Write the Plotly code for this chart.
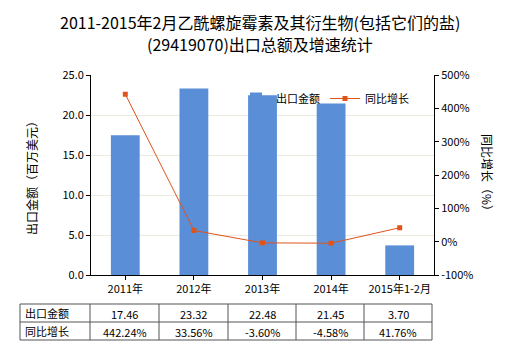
import plotly.graph_objects as go

categories = ["2011年", "2012年", "2013年", "2014年", "2015年1-2月"]
export_values = [17.46, 23.32, 22.48, 21.45, 3.70]
growth_pct = [442.24, 33.56, -3.60, -4.58, 41.76]
left_ticks = [0, 5, 10, 15, 20, 25]
right_ticks = [-100, 0, 100, 200, 300, 400, 500]

W, H = 520, 350
L, R, T, B = 91, 434, 75, 275
FONT = "Noto Sans CJK SC, Microsoft YaHei, sans-serif"
BAR_C = "#5A8ED6"
LINE_C = "#E0541B"

fig = go.Figure()
fig.add_trace(go.Bar(x=categories, y=export_values, name="出口金额",
                     marker=dict(color=BAR_C, line=dict(width=0)), width=0.42,
                     yaxis="y"))
fig.add_trace(go.Scatter(x=categories, y=growth_pct, name="同比增长", mode="lines+markers",
                         line=dict(color=LINE_C, width=1),
                         marker=dict(symbol="square", size=5, color=LINE_C),
                         yaxis="y2"))

def px(x):
    return (x - L) / (R - L)

def py(y):
    return (B - y) / (B - T)

shapes = []
col_x = [20, 90, 159, 228, 296, 364, 432]
row_y = [304, 322, 340]
for x in col_x:
    shapes.append(dict(type="line", xref="paper", yref="paper", x0=px(x), x1=px(x),
                       y0=py(row_y[0]), y1=py(row_y[-1]), line=dict(color="#555", width=1)))
for y in row_y:
    shapes.append(dict(type="line", xref="paper", yref="paper", x0=px(col_x[0]), x1=px(col_x[-1]),
                       y0=py(y), y1=py(y), line=dict(color="#555", width=1)))

annotations = []
row_labels = ["出口金额", "同比增长"]
for r, lab in enumerate(row_labels):
    yc = (row_y[r] + row_y[r + 1]) / 2
    annotations.append(dict(text=lab, xref="paper", yref="paper", x=px(col_x[0] + 3), y=py(yc),
                            xanchor="left", yanchor="middle", showarrow=False,
                            font=dict(size=11, color="#000", family=FONT)))
    for i in range(len(categories)):
        xc = (col_x[i + 1] + col_x[i + 2]) / 2
        txt = f"{export_values[i]:.2f}" if r == 0 else f"{growth_pct[i]:.2f}%"
        annotations.append(dict(text=txt, xref="paper", yref="paper", x=px(xc), y=py(yc + 1),
                                xanchor="center", yanchor="middle", showarrow=False,
                                font=dict(size=11, color="#000", family=FONT)))

title_lines = ["2011-2015年2月乙酰螺旋霉素及其衍生物(包括它们的盐)", "(29419070)出口总额及增速统计"]
for txt, yc in zip(title_lines, [22, 44]):
    annotations.append(dict(text=txt, xref="paper", yref="paper", x=px(260), y=py(yc),
                            xanchor="center", yanchor="middle", showarrow=False,
                            font=dict(size=16, color="#000", family=FONT)))

annotations.append(dict(text="同比增长（%）", xref="paper", yref="paper", x=px(488), y=0.5,
                        textangle=90, showarrow=False, xanchor="center", yanchor="middle",
                        font=dict(size=12, family=FONT)))

fig.update_layout(
    width=W, height=H,
    margin=dict(l=L, r=W - R, t=T, b=H - B),
    paper_bgcolor="white", plot_bgcolor="white",
    font=dict(family=FONT, size=11, color="#000"),
    bargap=0.58,
    showlegend=True,
    legend=dict(orientation="h", x=px(236), y=py(84), xanchor="left", yanchor="top",
                bgcolor="rgba(255,255,255,0)", font=dict(size=11, family=FONT),
                itemwidth=30, tracegroupgap=0),
    xaxis=dict(showline=True, linecolor="#000", linewidth=1, ticks="outside", ticklen=4,
               tickcolor="#000", tickfont=dict(size=11), showgrid=False),
    yaxis=dict(range=[0, 25], tickvals=left_ticks, ticktext=[f"{v:.1f}" for v in left_ticks],
               showline=True, linecolor="#000", linewidth=1, ticks="outside", ticklen=4,
               tickcolor="#000", showgrid=True, gridcolor="#ECE9DF", zeroline=False,
               title=dict(text="出口金额（百万美元）", font=dict(size=12), standoff=22)),
    yaxis2=dict(range=[-100, 500], tickvals=right_ticks, ticktext=[f"{v}%" for v in right_ticks],
                overlaying="y", side="right", showline=True, linecolor="#000", linewidth=1,
                ticks="outside", ticklen=4, tickcolor="#000", showgrid=False, zeroline=False),
    shapes=shapes,
    annotations=annotations,
)

fig.write_html("out.html")
